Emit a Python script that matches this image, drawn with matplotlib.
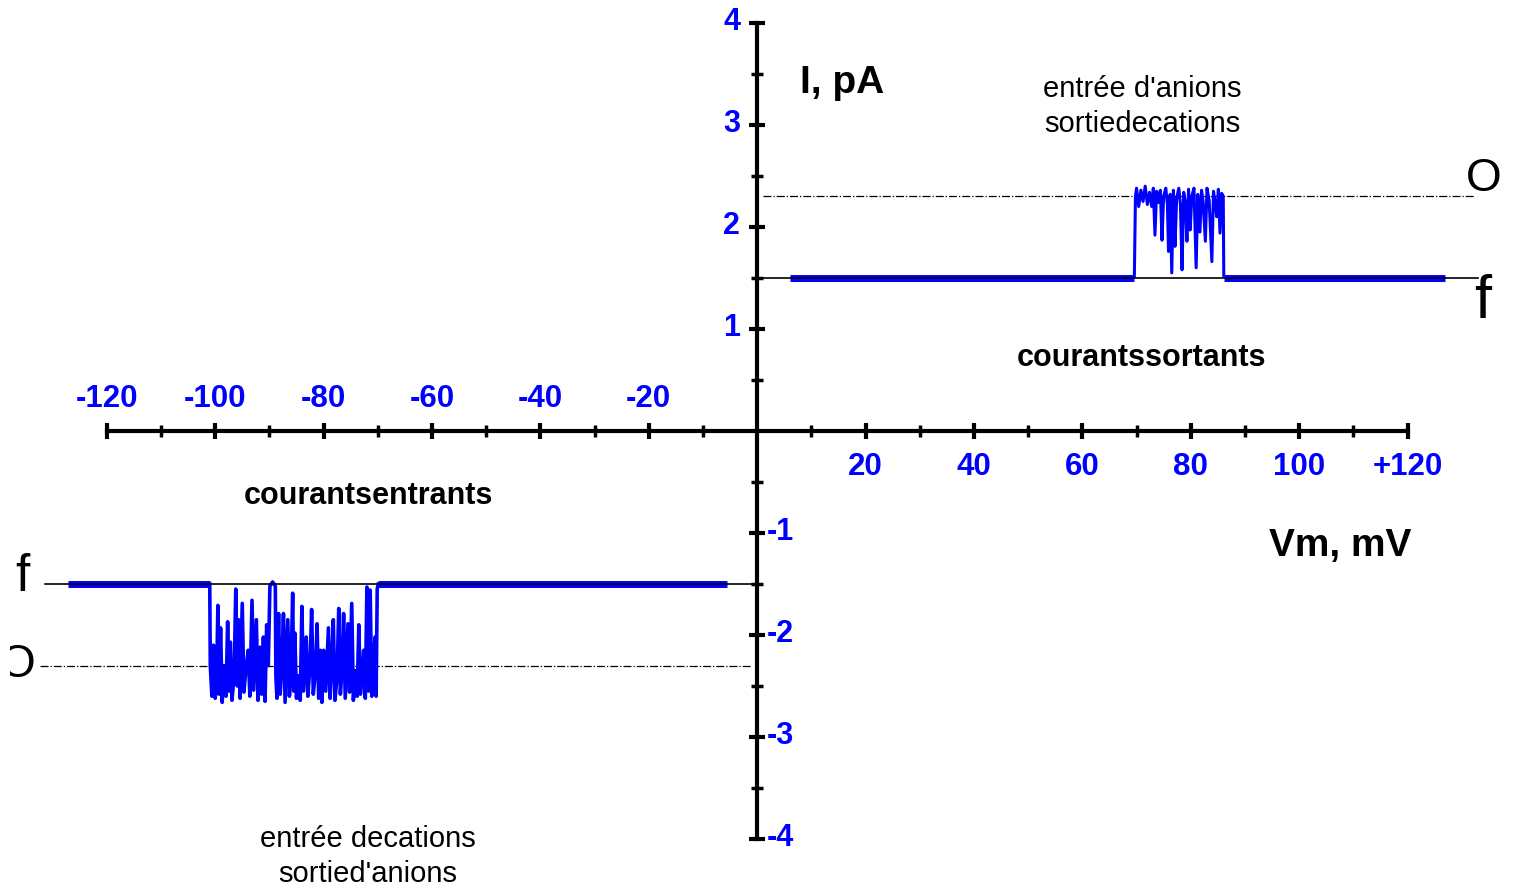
import numpy as np
import matplotlib.pyplot as plt
from matplotlib.ticker import FixedLocator
from matplotlib.patches import Rectangle

plt.rcParams['font.family'] = ['Liberation Sans', 'DejaVu Sans']

# niveaux du canal (pA)
niveau_ferme = 1.5
niveau_ouvert = 2.3

# tracé positif (Vm > 0) : ligne de base fermée
vm_base_pos = [[6.1, 69.6], [86.1, 126.9]]

# bouffée d'ouvertures, Vm positif (mV, pA)
vm_burst_pos = [69.6, 69.8, 70.0, 70.4, 70.8, 71.2, 71.6, 72.0, 72.4, 72.8, 73.1, 73.4,
                73.7, 74.1, 74.4, 74.7, 75.0, 75.4, 75.7, 75.9, 76.2, 76.5, 76.8, 77.1,
                77.4, 77.8, 78.1, 78.4, 78.7, 79.0, 79.3, 79.6, 79.9, 80.2, 80.6, 81.0,
                81.3, 81.7, 82.0, 82.3, 82.7, 83.0, 83.4, 83.9, 84.2, 84.5, 84.8, 85.1,
                85.4, 85.7, 86.0, 86.1]
i_burst_pos = [1.52, 2.30, 2.38, 2.20, 2.36, 2.25, 2.40, 2.22, 2.34, 2.20, 2.38, 1.92,
               2.35, 2.24, 2.36, 1.87, 2.30, 2.38, 2.22, 1.76, 2.32, 1.55, 2.36, 1.81,
               2.28, 2.38, 2.22, 1.58, 2.34, 2.25, 1.86, 2.37, 1.97, 2.30, 2.38, 1.60,
               2.32, 1.95, 2.36, 2.24, 1.86, 2.38, 2.26, 1.66, 2.35, 2.24, 2.10, 2.37,
               1.94, 2.33, 2.30, 1.52]

# tracé négatif (Vm < 0)
vm_base_neg = [[-127.1, -101.0], [-69.9, -5.5]]

vm_burst_neg = [-101.0, -100.9, -100.6, -100.3, -100.0, -99.7, -99.5, -99.3, -99.0, -98.7,
                -98.4, -98.0, -97.7, -97.4, -97.2, -96.9, -96.5, -96.2, -95.9, -95.7,
                -95.4, -95.0, -94.7, -94.3, -93.9, -93.6, -93.2, -92.9, -92.4, -92.1,
                -91.7, -91.4, -91.1, -90.8, -90.5, -90.2, -89.9, -89.4, -88.9, -88.8,
                -88.6, -88.3, -88.0, -87.7, -87.4, -87.1, -86.6, -86.3, -86.0, -85.7,
                -85.5, -85.3, -85.0, -84.6, -84.3, -84.0, -83.7, -83.2, -82.9, -82.5,
                -82.2, -81.9, -81.5, -81.2, -80.9, -80.6, -80.3, -80.0, -79.6, -79.1,
                -78.8, -78.5, -78.2, -77.9, -77.5, -77.2, -76.9, -76.6, -76.3, -76.0,
                -75.5, -75.2, -74.8, -74.5, -74.1, -73.8, -73.5, -73.2, -72.9, -72.6,
                -72.3, -72.0, -71.7, -71.4, -71.1, -70.8, -70.5, -70.3, -70.1, -69.9]
i_burst_neg = [-1.50, -2.30, -2.60, -2.10, -2.62, -2.35, -1.71, -2.58, -1.93, -2.66,
               -2.30, -2.60, -1.87, -2.55, -2.07, -2.64, -2.40, -1.55, -2.50, -1.85,
               -2.62, -1.69, -2.56, -2.32, -2.15, -2.60, -1.66, -2.54, -1.85, -2.64,
               -2.12, -2.58, -2.02, -2.65, -1.90, -2.30, -1.52, -1.48, -1.52, -2.40,
               -2.62, -1.79, -2.58, -2.30, -1.79, -2.66, -1.85, -2.60, -2.35, -1.59,
               -2.55, -1.98, -2.62, -2.40, -2.64, -1.72, -2.55, -2.02, -2.60, -2.30,
               -1.75, -2.58, -2.36, -1.89, -2.62, -2.15, -2.66, -2.15, -2.55, -1.93,
               -2.62, -2.30, -1.85, -2.64, -2.40, -1.74, -2.58, -2.35, -1.79, -2.62,
               -1.89, -2.56, -1.69, -2.64, -2.35, -2.60, -1.90, -2.58, -2.40, -2.15,
               -2.62, -1.53, -2.55, -1.56, -2.60, -2.30, -2.02, -2.60, -1.55, -1.50]

xticks_neg = [-120, -100, -80, -60, -40, -20]
xticks_pos = [20, 40, 60, 80, 100, 120]
xminor = [-110, -90, -70, -50, -30, -10, 10, 30, 50, 70, 90, 110]
yticks_pos = [1, 2, 3, 4]
yticks_neg = [-1, -2, -3, -4]
yminor = [-3.5, -2.5, -1.5, -0.5, 0.5, 1.5, 2.5, 3.5]

bleu = '#0000ff'

fig = plt.figure(figsize=(15.17, 8.89), dpi=100)
ax = fig.add_axes([0, 0, 1, 1])
ax.set_xlim(-139.7, 140.2)
ax.set_ylim(-4.49, 4.225)

# axes en croix
for s in ['top', 'right']:
    ax.spines[s].set_visible(False)
ax.spines['left'].set_position(('data', 0))
ax.spines['bottom'].set_position(('data', 0))
ax.spines['left'].set_bounds(-4, 4)
ax.spines['bottom'].set_bounds(-120, 120)
ax.spines['left'].set_linewidth(3)
ax.spines['bottom'].set_linewidth(3)
ax.xaxis.set_major_locator(FixedLocator(xticks_neg + xticks_pos))
ax.xaxis.set_minor_locator(FixedLocator(xminor))
ax.yaxis.set_major_locator(FixedLocator(yticks_neg + yticks_pos))
ax.yaxis.set_minor_locator(FixedLocator(yminor))
ax.tick_params(which='major', direction='inout', length=11, width=3,
               labelbottom=False, labelleft=False)
ax.tick_params(which='minor', direction='inout', length=8.5, width=2.5)

# lignes de référence
ax.plot([1, 132.5], [niveau_ouvert, niveau_ouvert], color='black', lw=0.9, ls='-.')
ax.plot([-132.3, -1.3], [-niveau_ouvert, -niveau_ouvert], color='black', lw=0.9, ls='-.')

# tracés
for a, b in vm_base_pos:
    ax.plot([a, b], [niveau_ferme, niveau_ferme], color=bleu, lw=5, solid_capstyle='butt')
for a, b in vm_base_neg:
    ax.plot([a, b], [-niveau_ferme, -niveau_ferme], color=bleu, lw=5, solid_capstyle='butt')
ax.plot(vm_burst_pos, i_burst_pos, color=bleu, lw=2.2)
ax.plot(vm_burst_neg, i_burst_neg, color=bleu, lw=2.6)

ax.plot([1, 133], [niveau_ferme, niveau_ferme], color='black', lw=1.2)
ax.plot([-131.4, 0], [-niveau_ferme, -niveau_ferme], color='black', lw=1.2)

# étiquettes des graduations
for t in xticks_neg:
    ax.text(t, 0.31, str(t), color=bleu, fontsize=22.5, fontweight='bold',
            ha='center', va='center')
for t in xticks_pos:
    lab = '+120' if t == 120 else str(t)
    ax.text(t, -0.35, lab, color=bleu, fontsize=22.5, fontweight='bold',
            ha='center', va='center')
for t in yticks_pos:
    ax.text(-3.1, t + 0.01, str(t), color=bleu, fontsize=22, fontweight='bold',
            ha='right', va='center')
for t in yticks_neg:
    ax.text(1.8, t + 0.01, str(t), color=bleu, fontsize=22, fontweight='bold',
            ha='left', va='center')

# titres et annotations
ax.text(15.7, 3.41, 'I, pA', fontsize=28, fontweight='bold', ha='center', va='center')
ax.text(107.6, -1.13, 'Vm, mV', fontsize=28, fontweight='bold', ha='center', va='center')
ax.text(71, 0.72, 'courantssortants', fontsize=22, fontweight='bold', ha='center', va='center')
ax.text(-71.8, -0.64, 'courantsentrants', fontsize=22, fontweight='bold', ha='center', va='center')
ax.text(71, 3.18, "entrée d'anions\nsortiedecations", fontsize=21, ha='center',
        va='center', linespacing=1.3)
ax.text(-71.8, -4.17, "entrée decations\nsortied'anions", fontsize=21, ha='center',
        va='center', linespacing=1.3)

ax.text(134.1, 2.47, 'O', fontsize=33, ha='center', va='center')
ax.text(133.8, 1.26, 'f', fontsize=44, ha='center', va='center')
ax.text(-135.6, -1.44, 'f', fontsize=37, ha='center', va='center')
# le « O » de gauche est rogné sur sa gauche dans l'original
o_gauche = ax.text(-136.4, -2.29, 'O', fontsize=33, ha='center', va='center')
cadre = Rectangle((-137.9, -3), 10, 2, transform=ax.transData, visible=False)
ax.add_patch(cadre)
o_gauche.set_clip_on(True)
o_gauche.set_clip_path(cadre)

fig.savefig('out.png', dpi=100)
